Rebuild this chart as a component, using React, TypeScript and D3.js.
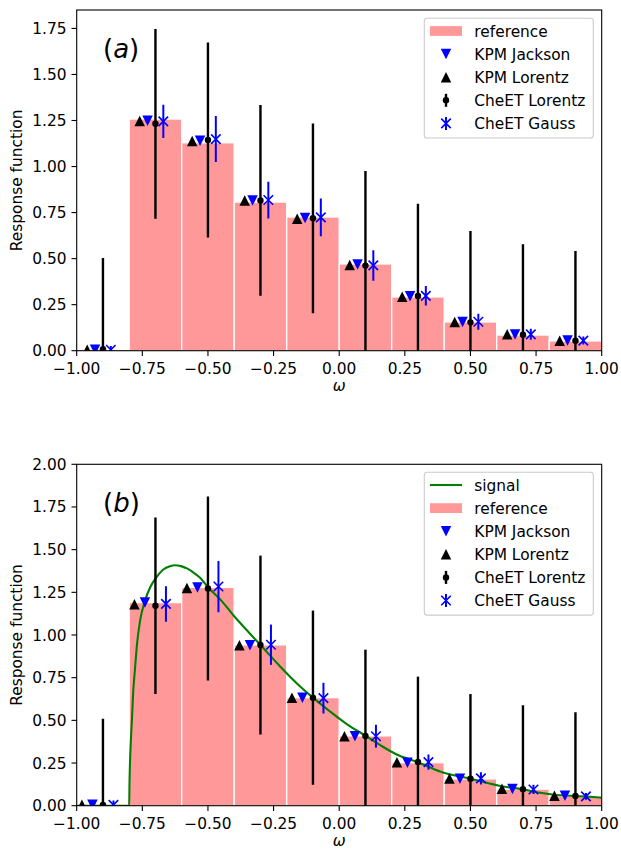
import React from "react";
import * as d3 from "d3";

// ---------- data ----------
const binEdges = [-1, -0.8, -0.6, -0.4, -0.2, 0, 0.2, 0.4, 0.6, 0.8, 1.0];
const centers = [-0.9, -0.7, -0.5, -0.3, -0.1, 0.1, 0.3, 0.5, 0.7, 0.9];
const xTicks = [-1, -0.75, -0.5, -0.25, 0, 0.25, 0.5, 0.75, 1.0];
const yTicksA = [0, 0.25, 0.5, 0.75, 1.0, 1.25, 1.5, 1.75];
const yTicksB = [0, 0.25, 0.5, 0.75, 1.0, 1.25, 1.5, 1.75, 2.0];

// panel (a)
const refA = [0, 1.258, 1.129, 0.807, 0.726, 0.471, 0.292, 0.156, 0.085, 0.053];
const kpmLorentzA = [0.005, 1.247, 1.139, 0.815, 0.717, 0.466, 0.293, 0.156, 0.089, 0.054];
const kpmJacksonA = [0.005, 1.248, 1.14, 0.815, 0.72, 0.468, 0.295, 0.156, 0.088, 0.055];
const cheetLorentzA = [0.008, 1.232, 1.144, 0.816, 0.719, 0.462, 0.297, 0.154, 0.087, 0.054];
const cheetLorentzErrA = [0.495, 0.515, 0.53, 0.518, 0.515, 0.514, 0.501, 0.496, 0.491, 0.487];
const cheetGaussA = [0.005, 1.245, 1.149, 0.818, 0.724, 0.463, 0.298, 0.157, 0.089, 0.055];
const cheetGaussErrA = [0.02, 0.09, 0.125, 0.1, 0.103, 0.083, 0.053, 0.043, 0.03, 0.022];

// panel (b)
const refB = [0, 1.19, 1.279, 0.942, 0.633, 0.409, 0.252, 0.157, 0.097, 0.057];
const kpmLorentzB = [0.005, 1.18, 1.276, 0.94, 0.632, 0.407, 0.255, 0.159, 0.099, 0.058];
const kpmJacksonB = [0.005, 1.19, 1.278, 0.94, 0.632, 0.407, 0.252, 0.158, 0.098, 0.058];
const cheetLorentzB = [0.005, 1.172, 1.272, 0.941, 0.633, 0.408, 0.256, 0.158, 0.096, 0.057];
const cheetLorentzErrB = [0.504, 0.517, 0.539, 0.524, 0.51, 0.506, 0.5, 0.496, 0.493, 0.491];
const cheetGaussB = [0.005, 1.182, 1.284, 0.943, 0.63, 0.407, 0.255, 0.16, 0.095, 0.055];
const cheetGaussErrB = [0.025, 0.104, 0.15, 0.118, 0.09, 0.067, 0.045, 0.036, 0.027, 0.02];

// signal curve (panel b)
const signalW = [-1, -0.8, -0.799, -0.797, -0.794, -0.79, -0.785, -0.778, -0.77, -0.759, -0.74, -0.72, -0.7, -0.67, -0.645, -0.625, -0.6, -0.58, -0.55, -0.53, -0.5, -0.454, -0.4, -0.35, -0.3, -0.225, -0.162, -0.1, -0.035, 0.029, 0.1, 0.155, 0.219, 0.3, 0.384, 0.5, 0.625, 0.7, 0.752, 0.879, 0.9, 1.0];
const signalV = [0, 0, 0.12, 0.25, 0.37, 0.49, 0.66, 0.8, 0.95, 1.08, 1.2, 1.28, 1.33, 1.384, 1.403, 1.409, 1.402, 1.39, 1.36, 1.335, 1.28, 1.21, 1.11, 1.025, 0.941, 0.816, 0.718, 0.633, 0.552, 0.478, 0.41, 0.356, 0.3, 0.255, 0.2, 0.158, 0.112, 0.096, 0.079, 0.058, 0.057, 0.047];

const FONT = "'DejaVu Sans', Verdana, sans-serif";
const FS = 15.4;
const LEFT = 76.7;
const RIGHT = 601.7;
const BAR_COLOR = "#ff9999";
const TICK = 5.2;

type PanelProps = {
  id: string;
  top: number;
  bottom: number;
  yMax: number;
  yTicks: number[];
  label: string;
  ref_: number[];
  kpmL: number[];
  kpmJ: number[];
  chL: number[];
  chLErr: number[];
  chG: number[];
  chGErr: number[];
  offsets: number[];
  signal: boolean;
  legendTop: number;
};

function TriUp({ x, y, s, fill }: { x: number; y: number; s: number; fill: string }) {
  const h = s / 2;
  return <path d={`M${x},${y - h}L${x + h},${y + h}L${x - h},${y + h}Z`} fill={fill} />;
}
function TriDown({ x, y, s, fill }: { x: number; y: number; s: number; fill: string }) {
  const h = s / 2;
  return <path d={`M${x},${y + h}L${x + h},${y - h}L${x - h},${y - h}Z`} fill={fill} />;
}
function XMark({ x, y, s, stroke }: { x: number; y: number; s: number; stroke: string }) {
  const h = s / 2;
  return (
    <path
      d={`M${x - h},${y - h}L${x + h},${y + h}M${x - h},${y + h}L${x + h},${y - h}`}
      stroke={stroke}
      strokeWidth={1.6}
      fill="none"
    />
  );
}

function Panel(p: PanelProps) {
  const x = d3.scaleLinear().domain([-1, 1]).range([LEFT, RIGHT]);
  const y = d3.scaleLinear().domain([0, p.yMax]).range([p.bottom, p.top]);
  const fmt = d3.format(".2f");
  const line = d3
    .line<number>()
    .x((_, i) => x(signalW[i]))
    .y((v) => y(v))
    .curve(d3.curveMonotoneX);
  const clipId = `clip-${p.id}`;
  const TRI = 10.5;

  const legendItems: { kind: string; text: string }[] = [];
  if (p.signal) legendItems.push({ kind: "line", text: "signal" });
  legendItems.push({ kind: "patch", text: "reference" });
  legendItems.push({ kind: "down", text: "KPM Jackson" });
  legendItems.push({ kind: "up", text: "KPM Lorentz" });
  legendItems.push({ kind: "dot", text: "CheET Lorentz" });
  legendItems.push({ kind: "xmark", text: "CheET Gauss" });
  const rowH = 23.1;
  const lgTop = p.legendTop;
  const lgH = legendItems.length * rowH + 4.2;
  const lgX0 = 424.3;
  const lgX1 = 593.3;
  const hx0 = 430;
  const hx1 = 462;
  const hc = (hx0 + hx1) / 2;
  const tx = 474.3;

  return (
    <g>
      <defs>
        <clipPath id={clipId}>
          <rect x={LEFT} y={p.top} width={RIGHT - LEFT} height={p.bottom - p.top} />
        </clipPath>
      </defs>
      <g clipPath={`url(#${clipId})`}>
        {p.ref_.map((v, i) =>
          v > 0 ? (
            <rect
              key={`b${i}`}
              x={x(binEdges[i])}
              y={y(v)}
              width={x(binEdges[i + 1]) - x(binEdges[i])}
              height={y(0) - y(v)}
              fill={BAR_COLOR}
              stroke="#ffffff"
              strokeWidth={1.3}
            />
          ) : null
        )}
        {p.signal && (
          <path d={line(signalV) || ""} fill="none" stroke="#008000" strokeWidth={2.1} />
        )}
        {p.kpmL.map((v, i) => (
          <TriUp key={`u${i}`} x={x(centers[i] + p.offsets[0])} y={y(v)} s={TRI} fill="#000000" />
        ))}
        {p.kpmJ.map((v, i) => (
          <TriDown key={`d${i}`} x={x(centers[i] + p.offsets[1])} y={y(v)} s={TRI} fill="#0000ff" />
        ))}
        {p.chL.map((v, i) => {
          const cx = x(centers[i] + p.offsets[2]);
          return (
            <g key={`l${i}`}>
              <line
                x1={cx}
                x2={cx}
                y1={y(v - p.chLErr[i])}
                y2={y(v + p.chLErr[i])}
                stroke="#000000"
                strokeWidth={2.4}
              />
              <circle cx={cx} cy={y(v)} r={3.2} fill="#000000" />
            </g>
          );
        })}
        {p.chG.map((v, i) => {
          const cx = x(centers[i] + p.offsets[3]);
          return (
            <g key={`g${i}`}>
              <line
                x1={cx}
                x2={cx}
                y1={y(v - p.chGErr[i])}
                y2={y(v + p.chGErr[i])}
                stroke="#0000ff"
                strokeWidth={2}
              />
              <XMark x={cx} y={y(v)} s={9.5} stroke="#0000ff" />
            </g>
          );
        })}
      </g>

      <rect
        x={LEFT}
        y={p.top}
        width={RIGHT - LEFT}
        height={p.bottom - p.top}
        fill="none"
        stroke="#000000"
        strokeWidth={1.1}
      />

      {xTicks.map((t) => (
        <g key={`xt${t}`}>
          <line x1={x(t)} x2={x(t)} y1={p.bottom} y2={p.bottom + TICK} stroke="#000" strokeWidth={1.1} />
          <text
            x={x(t)}
            y={p.bottom + 23.5}
            textAnchor="middle"
            fontFamily={FONT}
            fontSize={FS}
            fill="#000"
          >
            {fmt(t)}
          </text>
        </g>
      ))}
      {p.yTicks.map((t) => (
        <g key={`yt${t}`}>
          <line x1={LEFT - TICK} x2={LEFT} y1={y(t)} y2={y(t)} stroke="#000" strokeWidth={1.1} />
          <text
            x={LEFT - 10.2}
            y={y(t) + 5.5}
            textAnchor="end"
            fontFamily={FONT}
            fontSize={FS}
            fill="#000"
          >
            {fmt(t)}
          </text>
        </g>
      ))}

      <text
        x={(LEFT + RIGHT) / 2}
        y={p.bottom + 40.5}
        textAnchor="middle"
        fontFamily={FONT}
        fontSize={FS}
        fontStyle="italic"
        fill="#000"
      >
        ω
      </text>
      <text
        transform={`translate(21.5,${(p.top + p.bottom) / 2}) rotate(-90)`}
        textAnchor="middle"
        fontFamily={FONT}
        fontSize={FS}
        fill="#000"
      >
        Response function
      </text>

      <text x={103} y={p.top + 48} fontFamily={FONT} fontSize={26} fill="#000">
        (<tspan fontStyle="italic">{p.label}</tspan>)
      </text>

      <rect
        x={lgX0}
        y={lgTop}
        width={lgX1 - lgX0}
        height={lgH}
        rx={2.8}
        ry={2.8}
        fill="#ffffff"
        fillOpacity={0.8}
        stroke="#cccccc"
        strokeWidth={1.1}
      />
      {legendItems.map((it, i) => {
        const cy = lgTop + 12.7 + i * rowH;
        let handle: React.ReactNode = null;
        if (it.kind === "line")
          handle = <line x1={hx0} x2={hx1} y1={cy} y2={cy} stroke="#008000" strokeWidth={2.1} />;
        else if (it.kind === "patch")
          handle = <rect x={hx0} y={cy - 4.9} width={hx1 - hx0} height={9.8} fill={BAR_COLOR} />;
        else if (it.kind === "down") handle = <TriDown x={hc} y={cy} s={TRI} fill="#0000ff" />;
        else if (it.kind === "up") handle = <TriUp x={hc} y={cy} s={TRI} fill="#000000" />;
        else if (it.kind === "dot")
          handle = (
            <g>
              <line x1={hc} x2={hc} y1={cy - 6.5} y2={cy + 6.5} stroke="#000" strokeWidth={2.4} />
              <circle cx={hc} cy={cy} r={3.2} fill="#000" />
            </g>
          );
        else
          handle = (
            <g>
              <line x1={hc} x2={hc} y1={cy - 6.5} y2={cy + 6.5} stroke="#0000ff" strokeWidth={2} />
              <XMark x={hc} y={cy} s={9.5} stroke="#0000ff" />
            </g>
          );
        return (
          <g key={`lg${i}`}>
            {handle}
            <text x={tx} y={cy + 5.5} fontFamily={FONT} fontSize={FS} fill="#000">
              {it.text}
            </text>
          </g>
        );
      })}
    </g>
  );
}

export default function App() {
  return (
    <svg
      width={621}
      height={850}
      viewBox="0 0 621 850"
      style={{ position: "absolute", left: 0, top: 0, background: "#ffffff" }}
    >
      <rect x={0} y={0} width={621} height={850} fill="#ffffff" />
      <Panel
        id="a"
        top={10}
        bottom={350.7}
        yMax={1.85}
        yTicks={yTicksA}
        label="a"
        ref_={refA}
        kpmL={kpmLorentzA}
        kpmJ={kpmJacksonA}
        chL={cheetLorentzA}
        chLErr={cheetLorentzErrA}
        chG={cheetGaussA}
        chGErr={cheetGaussErrA}
        offsets={[-0.06, -0.03, 0, 0.03]}
        signal={false}
        legendTop={18.3}
      />
      <Panel
        id="b"
        top={464.3}
        bottom={805.7}
        yMax={2.0}
        yTicks={yTicksB}
        label="b"
        ref_={refB}
        kpmL={kpmLorentzB}
        kpmJ={kpmJacksonB}
        chL={cheetLorentzB}
        chLErr={cheetLorentzErrB}
        chG={cheetGaussB}
        chGErr={cheetGaussErrB}
        offsets={[-0.08, -0.04, 0, 0.04]}
        signal={true}
        legendTop={472.3}
      />
    </svg>
  );
}
